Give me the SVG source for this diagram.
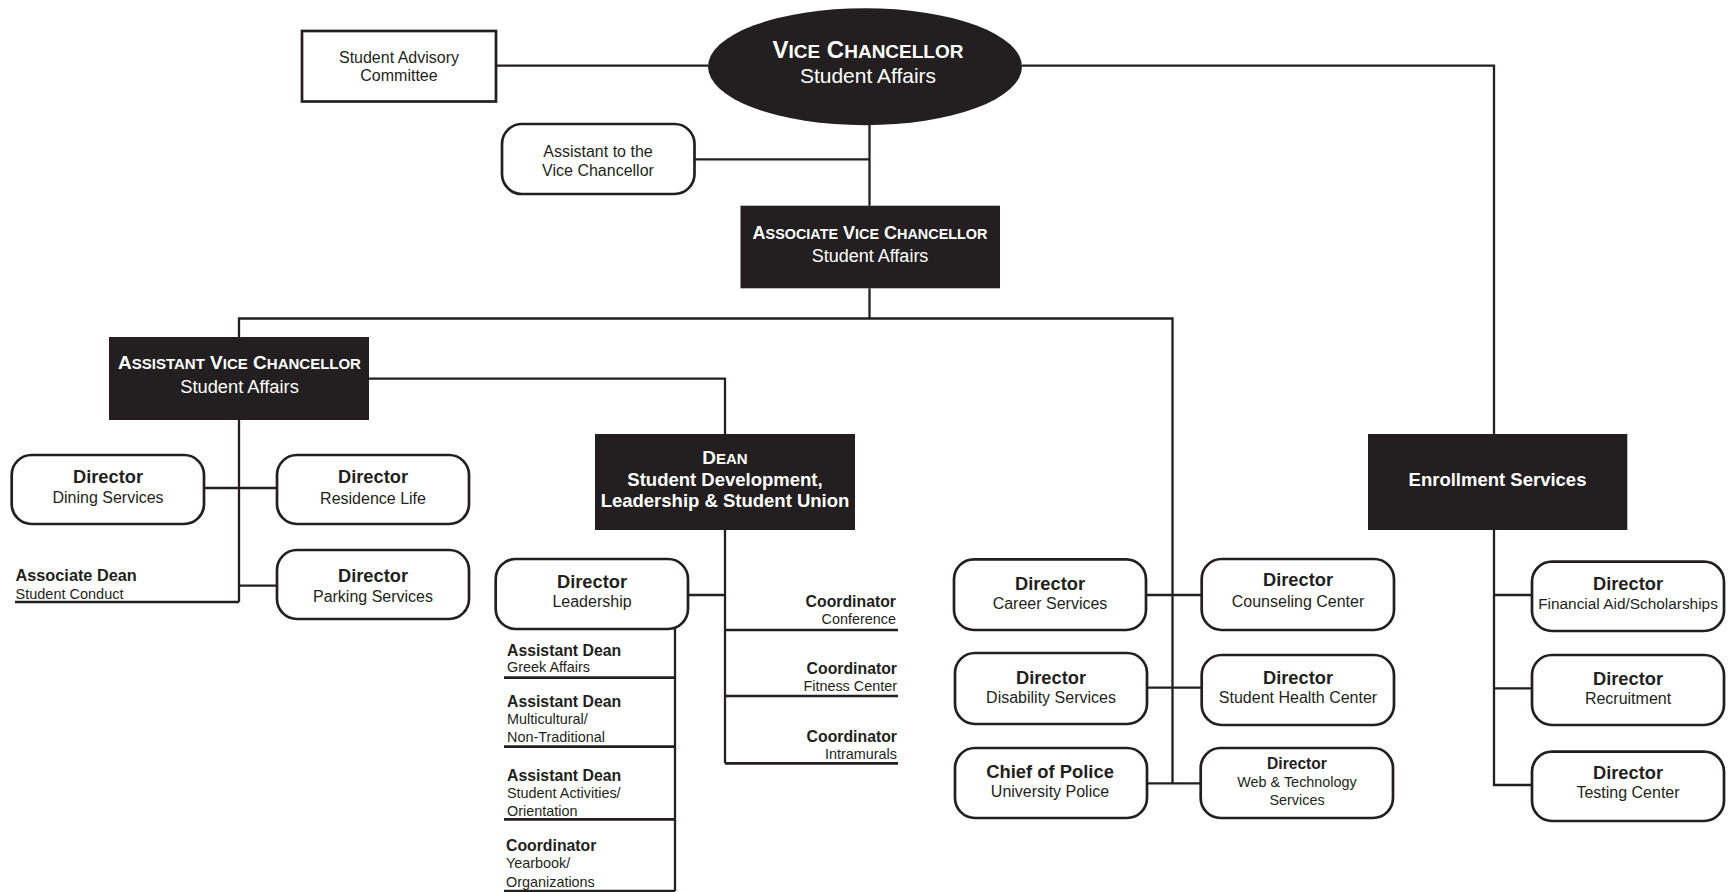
<svg xmlns="http://www.w3.org/2000/svg" width="1728" height="892" viewBox="0 0 1728 892">
<style>
.ln{stroke:#231f20;stroke-width:2.3;fill:none}
.ul{stroke:#231f20;stroke-width:2.7;fill:none}
.bx{fill:#fff;stroke:#231f20;stroke-width:2.7}
.dk{fill:#231f20}
.t{font-family:"Liberation Sans",Arial,Helvetica,sans-serif;fill:#231f20;text-anchor:middle}
.l{text-anchor:start}
.r{text-anchor:end}
.b{font-weight:bold}
.w{fill:#fff}
.f18{font-size:18.3px}
.f16{font-size:16px}
.f14{font-size:14.4px}
.f15b{font-size:15.8px;font-weight:bold}
</style>
<rect width="1728" height="892" fill="#fff"/>
<g id="connectors">
<path class="ln" d="M496,65.7H708"/>
<path class="ln" d="M1022,65.7H1494V434"/>
<path class="ln" d="M869.5,125V205.7"/>
<path class="ln" d="M694.5,159.3H869.5"/>
<path class="ln" d="M869.5,288.3V318.5"/>
<path class="ln" d="M239,337V318.5H1172.5V783.3"/>
<path class="ln" d="M239,420V602"/>
<path class="ul" d="M239,602H15"/>
<path class="ln" d="M204,488H277"/>
<path class="ln" d="M239,585.7H277"/>
<path class="ln" d="M369,378.7H725V434"/>
<path class="ln" d="M725,530V763.3"/>
<path class="ln" d="M688,595H725"/>
<path class="ul" d="M725,630H898M725,696H898M725,763.3H898"/>
<path class="ln" d="M675,629V891"/>
<path class="ul" d="M504,677.7H675M504,746.7H675M504,819.3H675M504,891H675"/>
<path class="ln" d="M1146,595H1201.7"/>
<path class="ln" d="M1147,687.7H1201.7"/>
<path class="ln" d="M1147,783.3H1200.7"/>
<path class="ln" d="M1494,530V785H1532"/>
<path class="ln" d="M1494,595H1532"/>
<path class="ln" d="M1494,688.3H1532"/>
</g>
<g id="student-advisory">
<rect class="bx" x="302" y="31" width="194" height="70.5"/>
<text class="t f16" x="399" y="62.5">Student Advisory</text>
<text class="t f16" x="399" y="81">Committee</text>
</g>
<g id="vice-chancellor">
<ellipse class="dk" cx="865" cy="66.7" rx="157" ry="58.5"/>
<text class="t b w" x="868" y="58.3"><tspan font-size="24">V</tspan><tspan font-size="19">ICE</tspan><tspan font-size="24"> C</tspan><tspan font-size="19">HANCELLOR</tspan></text>
<text class="t w" x="868" y="83.3" font-size="21">Student Affairs</text>
</g>
<g id="assistant-to-vc">
<rect class="bx" x="502" y="124" width="192.5" height="70" rx="20"/>
<text class="t f16" x="598" y="157.3">Assistant to the</text>
<text class="t f16" x="598" y="176">Vice Chancellor</text>
</g>
<g id="associate-vc">
<rect class="dk" x="740.5" y="205.7" width="259.5" height="82.6"/>
<text class="t b w" x="870" y="239.3"><tspan font-size="18">A</tspan><tspan font-size="14.4">SSOCIATE</tspan><tspan font-size="18"> V</tspan><tspan font-size="14.4">ICE</tspan><tspan font-size="18"> C</tspan><tspan font-size="14.4">HANCELLOR</tspan></text>
<text class="t w" x="870" y="261.7" font-size="18">Student Affairs</text>
</g>
<g id="assistant-vc">
<rect class="dk" x="109" y="337" width="260" height="83"/>
<text class="t b w" x="239.5" y="369"><tspan font-size="19">A</tspan><tspan font-size="15">SSISTANT</tspan><tspan font-size="19"> V</tspan><tspan font-size="15">ICE</tspan><tspan font-size="19"> C</tspan><tspan font-size="15">HANCELLOR</tspan></text>
<text class="t w" x="239.5" y="392.7" font-size="18.3">Student Affairs</text>
</g>
<g id="dining">
<rect class="bx" x="11.7" y="455" width="192.3" height="69" rx="20"/>
<text class="t b f18" x="108" y="483.3">Director</text>
<text class="t f16" x="108" y="502.7">Dining Services</text>
</g>
<g id="residence">
<rect class="bx" x="277" y="455" width="192" height="69" rx="20"/>
<text class="t b f18" x="373" y="483.3">Director</text>
<text class="t f16" x="373" y="504">Residence Life</text>
</g>
<g id="parking">
<rect class="bx" x="277" y="550" width="192" height="69" rx="20"/>
<text class="t b f18" x="373" y="582">Director</text>
<text class="t f16" x="373" y="602">Parking Services</text>
</g>
<g id="associate-dean">
<text class="t l b" x="15.5" y="581" font-size="16.3">Associate Dean</text>
<text class="t l" x="15.5" y="599.3" font-size="14.5">Student Conduct</text>
</g>
<g id="dean">
<rect class="dk" x="595" y="434" width="260" height="96"/>
<text class="t b w" x="725" y="464"><tspan font-size="19">D</tspan><tspan font-size="15">EAN</tspan></text>
<text class="t b w" x="725" y="485.7" font-size="18.5">Student Development,</text>
<text class="t b w" x="725" y="506.7" font-size="18.5">Leadership &amp; Student Union</text>
</g>
<g id="leadership">
<rect class="bx" x="495.7" y="559" width="192.3" height="70" rx="20"/>
<text class="t b f18" x="592" y="587.7">Director</text>
<text class="t f16" x="592" y="606.7">Leadership</text>
</g>
<g id="greek">
<text class="t l f15b" x="507" y="655.7">Assistant Dean</text>
<text class="t l f14" x="507" y="672">Greek Affairs</text>
</g>
<g id="multicultural">
<text class="t l f15b" x="507" y="707">Assistant Dean</text>
<text class="t l f14" x="507" y="724">Multicultural/</text>
<text class="t l f14" x="507" y="742">Non-Traditional</text>
</g>
<g id="student-activities">
<text class="t l f15b" x="507" y="780.7">Assistant Dean</text>
<text class="t l f14" x="507" y="797.7">Student Activities/</text>
<text class="t l f14" x="507" y="815.7">Orientation</text>
</g>
<g id="yearbook">
<text class="t l f15b" x="506" y="850.7">Coordinator</text>
<text class="t l f14" x="506" y="868">Yearbook/</text>
<text class="t l f14" x="506" y="886.7">Organizations</text>
</g>
<g id="conference">
<text class="t r f15b" x="896" y="606.7">Coordinator</text>
<text class="t r f14" x="896" y="624.3">Conference</text>
</g>
<g id="fitness">
<text class="t r f15b" x="897" y="674">Coordinator</text>
<text class="t r f14" x="897" y="690.7">Fitness Center</text>
</g>
<g id="intramurals">
<text class="t r f15b" x="897" y="741.7">Coordinator</text>
<text class="t r f14" x="897" y="759.3">Intramurals</text>
</g>
<g id="career">
<rect class="bx" x="954" y="559.3" width="192" height="70.7" rx="20"/>
<text class="t b f18" x="1050" y="590">Director</text>
<text class="t f16" x="1050" y="609">Career Services</text>
</g>
<g id="counseling">
<rect class="bx" x="1201.7" y="559" width="192.3" height="71" rx="20"/>
<text class="t b f18" x="1298" y="585.7">Director</text>
<text class="t f16" x="1298" y="606.7">Counseling Center</text>
</g>
<g id="disability">
<rect class="bx" x="955" y="653" width="192" height="71" rx="20"/>
<text class="t b f18" x="1051" y="684">Director</text>
<text class="t f16" x="1051" y="703">Disability Services</text>
</g>
<g id="health">
<rect class="bx" x="1201.7" y="655" width="192.3" height="70" rx="20"/>
<text class="t b f18" x="1298" y="684">Director</text>
<text class="t f16" x="1298" y="703">Student Health Center</text>
</g>
<g id="police">
<rect class="bx" x="955" y="748" width="192" height="70" rx="20"/>
<text class="t b" x="1050" y="777.7" font-size="18.4">Chief of Police</text>
<text class="t f16" x="1050" y="797">University Police</text>
</g>
<g id="web">
<rect class="bx" x="1200.7" y="748" width="192.3" height="70" rx="20"/>
<text class="t b" x="1297" y="769" font-size="15.6">Director</text>
<text class="t" x="1297" y="787" font-size="14.4">Web &amp; Technology</text>
<text class="t" x="1297" y="805" font-size="14.4">Services</text>
</g>
<g id="enrollment">
<rect class="dk" x="1368" y="434" width="259.3" height="96"/>
<text class="t b w" x="1497.5" y="485.7" font-size="18.5">Enrollment Services</text>
</g>
<g id="financial-aid">
<rect class="bx" x="1532" y="561.7" width="192" height="69.3" rx="20"/>
<text class="t b f18" x="1628" y="590">Director</text>
<text class="t" x="1628" y="609" font-size="15.4">Financial Aid/Scholarships</text>
</g>
<g id="recruitment">
<rect class="bx" x="1532" y="655" width="192" height="70" rx="20"/>
<text class="t b f18" x="1628" y="685">Director</text>
<text class="t f16" x="1628" y="704">Recruitment</text>
</g>
<g id="testing">
<rect class="bx" x="1532" y="751.7" width="192" height="69.3" rx="20"/>
<text class="t b f18" x="1628" y="779.3">Director</text>
<text class="t f16" x="1628" y="797.7">Testing Center</text>
</g>
</svg>
